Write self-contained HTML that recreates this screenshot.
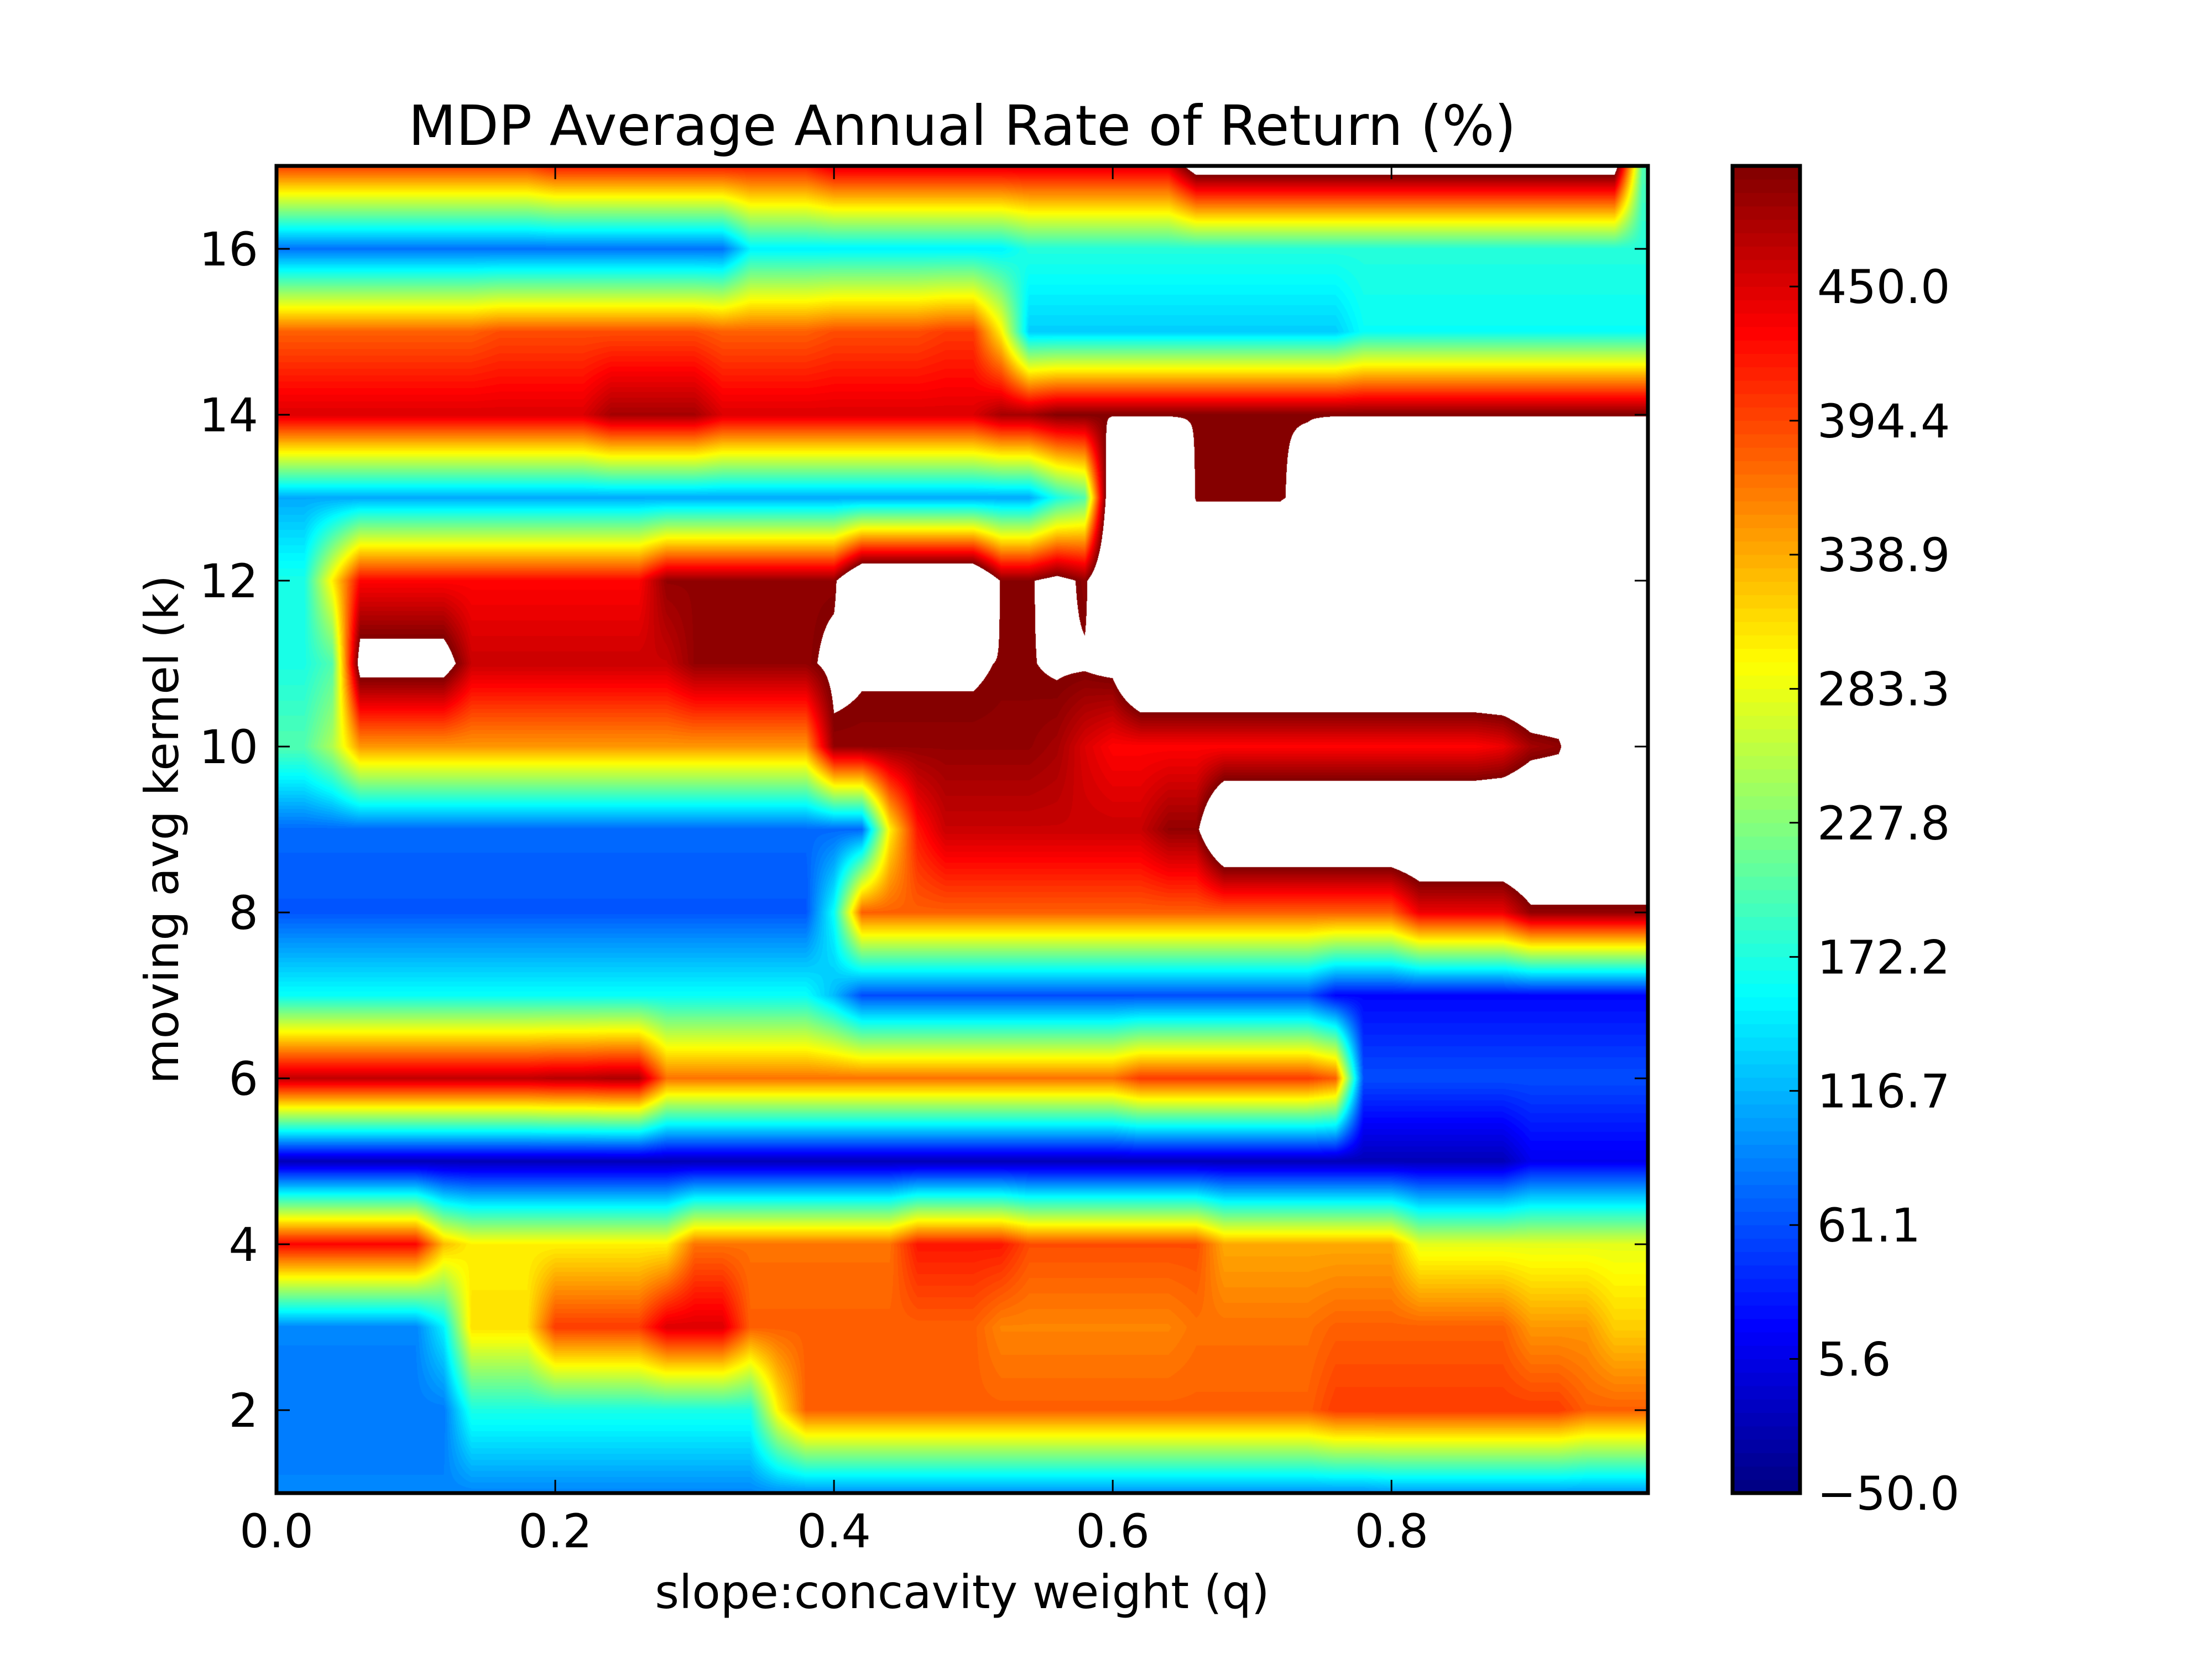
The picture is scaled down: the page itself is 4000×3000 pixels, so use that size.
<!DOCTYPE html>
<html><head><meta charset="utf-8"><style>
html,body{margin:0;padding:0;background:#fff;}
#wrap{position:relative;width:4000px;height:3000px;overflow:hidden;background:#fff;}
#heat{position:absolute;left:500px;top:300px;}
#ov{position:absolute;left:0;top:0;}
text{font-family:"DejaVu Sans","Liberation Sans",sans-serif;fill:#000;}
</style></head><body>
<div id="wrap">
<canvas id="heat" width="2480" height="2400"></canvas>
<svg id="ov" width="4000" height="3000"></svg>
</div>
<script>
// ---- data ----
const qValues = [0,0.02,0.04,0.06,0.08,0.1,0.12,0.14,0.16,0.18,0.2,0.22,0.24,0.26,0.28,0.3,0.32,0.34,0.36,0.38,0.4,0.42,0.44,0.46,0.48,0.5,0.52,0.54,0.56,0.58,0.6,0.62,0.64,0.66,0.68,0.7,0.72,0.74,0.76,0.78,0.8,0.82,0.84,0.86,0.88,0.9,0.92,0.94,0.96,0.98];
const kValues = [1,2,3,4,5,6,7,8,9,10,11,12,13,14,15,16,17];
const row1 = [90,90,90,90,90,90,90,90,90,90,90,90,90,90,90,90,90,90,95,95,95,95,95,95,95,95,95,95,95,95,95,95,95,95,95,95,95,95,95,95,100,100,100,100,100,100,100,100,100,100];
const row2 = [85,85,85,85,85,85,85,170,170,170,170,170,170,170,170,170,170,170,300,380,380,380,380,380,380,380,380,380,380,380,380,380,380,380,380,380,380,380,400,400,400,400,400,400,400,400,400,380,380,380];
const row3 = [90,90,90,90,90,90,150,310,310,310,400,400,400,400,450,450,450,380,380,380,380,380,380,380,380,380,360,360,360,360,360,360,360,370,370,370,370,370,380,380,380,380,380,380,380,350,350,350,320,320];
const row4 = [430,430,430,430,430,430,330,300,300,300,300,300,300,300,300,370,370,370,370,370,370,370,370,420,420,420,420,390,390,390,390,390,390,390,340,340,340,340,340,340,340,280,280,280,280,280,280,280,280,280];
const row5 = [-20,-20,-20,-20,-20,-20,-20,-20,-20,-20,-20,-20,-20,-20,-20,-20,-20,-20,-20,-20,-20,-20,-20,-20,-20,-20,-20,-20,-20,-20,-20,-20,-20,-20,-20,-20,-20,-20,-20,-20,-20,-20,-20,-20,-20,10,10,10,10,10];
const row6 = [465,465,465,465,465,465,465,465,465,465,470,470,475,475,370,370,370,370,370,370,370,370,370,370,370,370,370,370,370,370,370,400,400,400,400,400,400,400,380,60,60,60,60,60,60,60,60,60,60,60];
const row7 = [160,160,160,160,160,160,160,160,160,160,160,160,160,160,160,160,160,160,160,160,120,60,60,60,60,60,60,60,60,60,60,60,60,60,60,60,60,60,20,20,20,20,20,20,20,20,20,20,20,20];
const row8 = [65,65,65,65,65,65,65,65,65,65,65,65,65,65,65,65,65,65,65,65,160,380,380,380,380,380,380,380,380,380,380,380,380,380,380,380,380,380,380,380,380,440,440,440,440,490,490,490,490,490];
const row9 = [75,75,75,75,75,75,75,75,75,75,75,75,75,75,75,75,75,75,75,75,75,75,300,420,460,460,460,460,460,460,460,460,490,490,600,600,600,600,600,600,600,600,600,600,600,600,600,600,600,600];
const row10 = [200,200,250,350,350,350,350,350,350,350,350,350,350,350,350,350,350,350,350,350,490,490,490,490,490,490,490,490,480,450,430,430,430,430,430,430,430,430,430,430,430,430,430,430,440,480,490,600,600,600];
const row11 = [170,170,200,530,530,530,530,460,460,460,460,460,460,460,460,490,490,490,490,490,515,505,505,505,505,505,498,498,505,505,515,600,600,600,600,600,600,600,600,600,600,600,600,600,600,600,600,600,600,600];
const row12 = [170,170,300,430,430,430,430,430,430,430,430,430,430,430,490,490,490,490,490,490,490,600,600,600,600,600,495,495,520,490,600,600,600,600,600,600,600,600,600,600,600,600,600,600,600,600,600,600,600,600];
const row13 = [110,110,110,110,110,110,110,110,110,110,110,110,110,110,110,110,110,110,110,110,110,110,110,110,110,110,110,110,170,200,600,600,600,495,495,495,495,520,600,600,600,600,600,600,600,600,600,600,600,600];
const row14 = [450,450,450,450,450,450,450,450,450,450,450,450,480,480,480,480,450,450,450,450,450,450,450,450,450,450,480,480,498,498,498,498,498,498,498,498,498,498,498,498,498,498,498,498,498,498,498,498,498,498];
const row15 = [380,380,380,380,380,380,380,380,390,390,390,390,390,390,390,390,380,380,380,380,390,390,390,390,400,400,300,130,130,130,130,130,130,130,130,130,130,130,130,160,160,160,160,160,160,160,160,160,160,160];
const row16 = [80,80,80,80,80,80,80,80,80,80,80,80,80,80,80,80,80,150,150,150,150,150,150,150,150,150,150,175,175,175,175,175,175,175,175,175,175,175,175,175,175,175,175,175,175,175,175,175,175,175];
const row17 = [400,400,400,400,400,400,400,400,400,400,420,420,420,420,420,420,420,420,420,420,450,450,450,450,450,450,450,450,450,450,450,450,450,540,540,540,540,540,540,540,540,540,540,540,540,540,540,540,540,200];
const gridRows = [row1,row2,row3,row4,row5,row6,row7,row8,row9,row10,row11,row12,row13,row14,row15,row16,row17];
const xTickValues = [0,0.2,0.4,0.6,0.8];
const xTickLabels = ["0.0","0.2","0.4","0.6","0.8"];
const yTickValues = [2,4,6,8,10,12,14,16];
const cbTickValues = [-50,5.6,61.1,116.7,172.2,227.8,283.3,338.9,394.4,450.0];
const cbTickLabels = ["\u221250.0","5.6","61.1","116.7","172.2","227.8","283.3","338.9","394.4","450.0"];
const vMin = -50, vMax = 500, nLevels = 99;

// ---- geometry ----
const PL=500, PT=300, PW=2480, PH=2400, QMAX=0.984, KMIN=1, KMAX=17;
const xS = q => PL + q/QMAX*PW;
const yS = k => PT + PH - (k-KMIN)/(KMAX-KMIN)*PH;
const CBL=3133, CBW=122;
const cbY = v => PT + PH - (v-vMin)/(vMax-vMin)*PH;

function jet(t){
  const c=x=>Math.max(0,Math.min(1,x));
  return [c(1.5-Math.abs(4*t-3)),c(1.5-Math.abs(4*t-2)),c(1.5-Math.abs(4*t-1))].map(v=>Math.round(v*255));
}
const step=(vMax-vMin)/nLevels;
const levelColors=[];
for(let i=0;i<nLevels;i++) levelColors.push(jet((i+0.5)/nLevels));

// ---- heat (contourf-like) ----
(function(){
  const cv=document.getElementById('heat');
  const ctx=cv.getContext('2d');
  const img=ctx.createImageData(PW,PH);
  const d=img.data;
  const nq=qValues.length, nk=kValues.length;
  const qStep=qValues[1]-qValues[0];
  for(let py=0;py<PH;py++){
    const k=KMAX-(py+0.5)/PH*(KMAX-KMIN);
    let fk=(k-KMIN); let k0=Math.floor(fk); if(k0>=nk-1)k0=nk-2; if(k0<0)k0=0;
    const tk=fk-k0;
    const r0=gridRows[k0], r1=gridRows[k0+1];
    for(let px=0;px<PW;px++){
      let q=(px+0.5)/PW*QMAX; if(q>qValues[nq-1])q=qValues[nq-1];
      let fq=q/qStep; let q0=Math.floor(fq); if(q0>=nq-1)q0=nq-2;
      const tq=fq-q0;
      const v=(r0[q0]*(1-tq)+r0[q0+1]*tq)*(1-tk)+(r1[q0]*(1-tq)+r1[q0+1]*tq)*tk;
      const o=(py*PW+px)*4;
      if(v>vMax){d[o]=255;d[o+1]=255;d[o+2]=255;d[o+3]=255;continue;}
      let li=Math.floor((v-vMin)/step); if(li<0)li=0; if(li>=nLevels)li=nLevels-1;
      const c=levelColors[li];
      d[o]=c[0];d[o+1]=c[1];d[o+2]=c[2];d[o+3]=255;
    }
  }
  ctx.putImageData(img,0,0);
})();

// ---- overlay ----
const svg=document.getElementById('ov');
const NS='http://www.w3.org/2000/svg';
function mk(tag,attrs,parent){const e=document.createElementNS(NS,tag);for(const a in attrs)e.setAttribute(a,attrs[a]);(parent||svg).appendChild(e);return e;}

const cbG=mk('g',{});


for(let i=0;i<nLevels;i++){
  const c=levelColors[i];
  const y1=cbY(vMin+(i+1)*step), y0=cbY(vMin+i*step);
  const r=mk('rect',{x:CBL,y:y1-0.5,width:CBW,height:(y0-y1)+1,fill:`rgb(${c[0]},${c[1]},${c[2]})`},cbG);
  
  
}
const cbFrame=mk('rect',{x:CBL,y:PT,width:CBW,height:PH,fill:'none',stroke:'#000','stroke-width':7});


cbTickValues.forEach((v,i)=>{
  const y=cbY(v);
  const t=mk('line',{x1:CBL+CBW-19,x2:CBL+CBW,y1:y,y2:y,stroke:'#000','stroke-width':3});
  
  
  const tx=mk('text',{x:3286,y:y+30,'font-size':84});
  tx.textContent=cbTickLabels[i];
  
  
});

const frame=mk('rect',{x:PL,y:PT,width:PW,height:PH,fill:'none',stroke:'#000','stroke-width':7});



xTickValues.forEach((q,i)=>{
  const x=xS(q);
  const t1=mk('line',{x1:x,x2:x,y1:PT+PH,y2:PT+PH-24,stroke:'#000','stroke-width':3});
  
  
  const t2=mk('line',{x1:x,x2:x,y1:PT,y2:PT+24,stroke:'#000','stroke-width':3});
  
  
  const tx=mk('text',{x:x,y:2798,'font-size':84,'text-anchor':'middle'});
  tx.textContent=xTickLabels[i];
  
  
});
yTickValues.forEach(k=>{
  const y=yS(k);
  const t1=mk('line',{x1:PL,x2:PL+24,y1:y,y2:y,stroke:'#000','stroke-width':3});
  
  
  const t2=mk('line',{x1:PL+PW,x2:PL+PW-24,y1:y,y2:y,stroke:'#000','stroke-width':3});
  
  
  const tx=mk('text',{x:467,y:y+30,'font-size':84,'text-anchor':'end'});
  tx.textContent=String(k);
  
  
});

const title=mk('text',{x:PL+PW/2,y:262,'font-size':100,'text-anchor':'middle'});
title.textContent='MDP Average Annual Rate of Return (%)';



const xl=mk('text',{x:PL+PW/2,y:2908,'font-size':84,'text-anchor':'middle'});
xl.textContent='slope:concavity weight (q)';



const yl=mk('text',{x:0,y:0,'font-size':84,'text-anchor':'middle',transform:'translate(322,1500) rotate(-90)'});
yl.textContent='moving avg kernel (k)';


</script>
</body></html>
